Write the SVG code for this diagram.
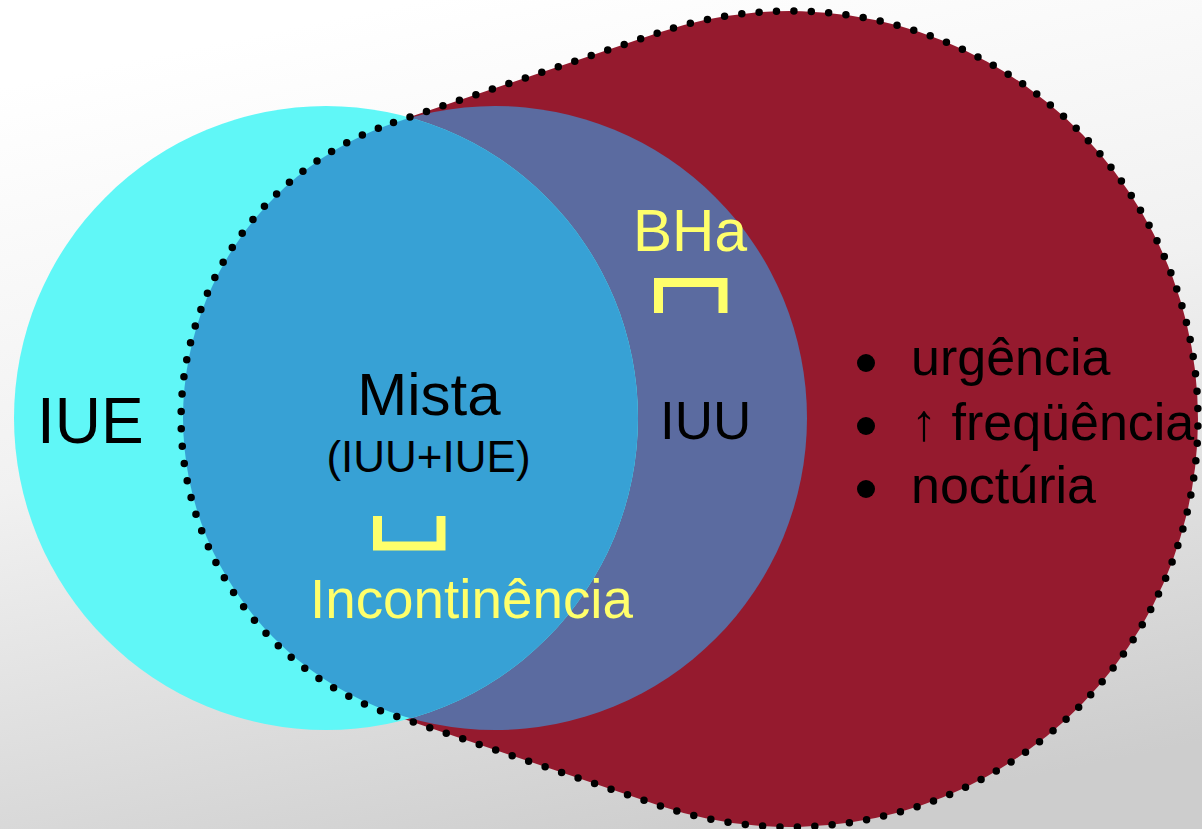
<svg xmlns="http://www.w3.org/2000/svg" width="1202" height="829" viewBox="0 0 1202 829">
  <defs>
    <linearGradient id="bg" x1="0.35" y1="0" x2="0.65" y2="1">
      <stop offset="0" stop-color="#FFFFFF"/>
      <stop offset="0.45" stop-color="#F1F1F1"/>
      <stop offset="1" stop-color="#CDCDCD"/>
    </linearGradient>
    <clipPath id="clipIUE">
      <circle cx="326" cy="418" r="312"/>
    </clipPath>
    <style>
      .blk { font-family: "Liberation Sans", Arial, sans-serif; fill: #000000; }
      .yel { font-family: "Liberation Sans", Arial, sans-serif; fill: #FFFF6B; }
      .brk { fill: none; stroke: #FFFF6B; stroke-width: 9; stroke-linejoin: miter; stroke-linecap: butt; }
      .dots { fill: none; stroke: #000000; stroke-width: 7.5; stroke-linecap: round; stroke-dasharray: 0 17.4; }
      .bul { fill: #000000; }
    </style>
  </defs>

  <rect x="0" y="0" width="1202" height="829" fill="url(#bg)"/>

  <g id="node-sintomas">
    <path d="M393.5,122.6 L659,32.6 A408,408 0 1,1 659,805.4 L393.5,715.4 A313,313 0 0,1 393.5,122.6 Z" fill="#951A2E"/>
  </g>

  <g id="node-iuu">
    <circle cx="495" cy="418" r="312" fill="#5B6BA0"/>
  </g>

  <g id="node-iue">
    <circle cx="326" cy="418" r="312" fill="#60F7F7"/>
  </g>

  <g id="node-mista">
    <circle cx="495" cy="418" r="312" fill="#37A1D5" clip-path="url(#clipIUE)"/>
  </g>

  <g id="blob-outline">
    <path d="M393.5,122.6 L659,32.6 A408,408 0 1,1 659,805.4 L393.5,715.4 A313,313 0 0,1 393.5,122.6 Z" class="dots"/>
  </g>

  <g id="connectors">
    <path class="brk" d="M658.5,313 V282.5 H723 V313"/>
    <path class="brk" d="M377.5,516 V546 H441 V516"/>
  </g>

  <g id="labels">
    <text class="blk" x="37" y="443" font-size="64">IUE</text>
    <text class="blk" x="429" y="415" font-size="60" text-anchor="middle">Mista</text>
    <text class="blk" x="428.5" y="472" font-size="44" text-anchor="middle">(IUU+IUE)</text>
    <text class="blk" x="660" y="439" font-size="53">IUU</text>
    <text class="yel" x="633" y="251" font-size="60" textLength="114" lengthAdjust="spacingAndGlyphs">BHa</text>
    <text class="yel" x="310" y="618" font-size="56" textLength="323" lengthAdjust="spacingAndGlyphs">Incontinência</text>
  </g>

  <g id="node-lista">
    <circle class="bul" cx="866" cy="363" r="9"/>
    <circle class="bul" cx="866" cy="426" r="9"/>
    <circle class="bul" cx="866" cy="489" r="9"/>
    <text class="blk" x="911" y="375" font-size="52">urgência</text>
    <text class="blk" x="911" y="440" font-size="52">↑ freqüência</text>
    <text class="blk" x="911" y="503" font-size="52">noctúria</text>
  </g>
</svg>
